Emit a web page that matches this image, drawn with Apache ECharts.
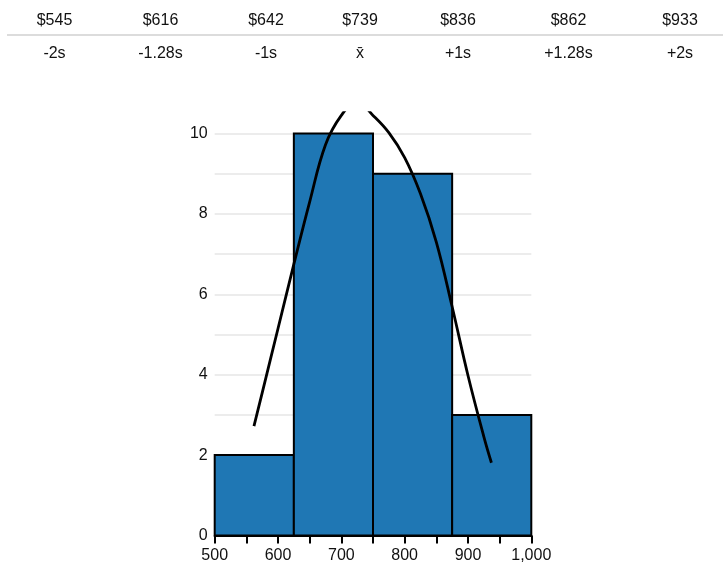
<!DOCTYPE html>
<html>
<head>
<meta charset="utf-8">
<script src="https://cdn.jsdelivr.net/npm/echarts@6/dist/echarts.min.js"></script>
<style>
  html, body { margin: 0; padding: 0; background: #fff; }
  body { width: 723px; height: 569px; position: relative; overflow: hidden;
         font-family: "Liberation Sans", Arial, Helvetica, sans-serif; color: #111; }
  #chart { position: absolute; left: 0; top: 0; width: 723px; height: 569px; }
  #tbl { position: absolute; left: 0; top: 0; width: 723px; height: 70px; z-index: 2; }
  .cell { position: absolute; height: 20px; line-height: 20px; font-size: 16px; text-align: center; white-space: nowrap; }
  .sep { position: absolute; left: 7px; right: 0; top: 34px; height: 2px; background: #dcdcdc; }
</style>
</head>
<body>
<div id="chart"></div>
<div id="tbl"></div>
<script>
// ---- data ----
const stdValues = [545, 616, 642, 739, 836, 862, 933];
const stdLabels = ['-2s', '-1.28s', '-1s', 'x\u0304', '+1s', '+1.28s', '+2s'];

const binStarts = [500, 625, 750, 875];
const binEnds   = [625, 750, 875, 1000];
const binCounts = [2, 10, 9, 3];

const curveX = [562, 575, 600, 625, 650, 675, 700, 725, 750, 775, 800, 825, 850, 875, 900, 925, 937];
const curveY = [2.72, 3.55, 5.15, 6.75, 8.3, 9.72, 10.45, 10.8, 10.45, 10.02, 9.4, 8.5, 7.3, 5.69, 3.98, 2.46, 1.81];

const xTicks = [500, 600, 700, 800, 900, 1000];
const yTicks = [0, 2, 4, 6, 8, 10];

// ---- table ----
const colWidths = [95, 117, 94, 94, 102, 119, 104];
const tbl = document.getElementById('tbl');
let left = 7;
stdValues.forEach((v, i) => {
  const w = colWidths[i];
  const c1 = document.createElement('div');
  c1.className = 'cell';
  c1.style.left = left + 'px'; c1.style.width = w + 'px'; c1.style.top = '10px';
  c1.textContent = '$' + v;
  tbl.appendChild(c1);
  const c2 = document.createElement('div');
  c2.className = 'cell';
  c2.style.left = left + 'px'; c2.style.width = w + 'px'; c2.style.top = '43px';
  c2.textContent = stdLabels[i];
  tbl.appendChild(c2);
  left += w;
});
const sep = document.createElement('div');
sep.className = 'sep';
tbl.appendChild(sep);

// ---- chart ----
const chart = echarts.init(document.getElementById('chart'), null, { renderer: 'canvas' });
const histData = binStarts.map((s, i) => [s, binEnds[i], binCounts[i]]);
const curveData = curveX.map((x, i) => [x, curveY[i]]);
const font = '"Liberation Sans", Arial, Helvetica, sans-serif';

chart.setOption({
  animation: false,
  grid: { left: 214.7, right: 191.7, top: 112.6, bottom: 33.5 },
  xAxis: {
    type: 'value', min: 500, max: 1000, interval: 50,
    axisLine: { show: true, onZero: false, lineStyle: { color: '#000', width: 2 } },
    axisTick: { show: true, length: 8, lineStyle: { color: '#000', width: 2 } },
    splitLine: { show: false },
    axisLabel: {
      margin: 12, fontSize: 16, color: '#111', fontFamily: font,
      showMinLabel: true, showMaxLabel: true,
      formatter: v => xTicks.indexOf(v) >= 0 ? v.toLocaleString('en-US') : ''
    }
  },
  yAxis: {
    type: 'value', min: 0, max: 10.52, interval: 1,
    axisLine: { show: false },
    axisTick: { show: false },
    splitLine: { show: true, showMaxLine: false, lineStyle: { color: '#ececec', width: 2 } },
    axisLabel: {
      margin: 7, fontSize: 16, color: '#111', fontFamily: font,
      formatter: v => yTicks.indexOf(v) >= 0 ? String(v) : ''
    }
  },
  series: [
    {
      type: 'custom',
      data: histData,
      encode: { x: [0, 1], y: 2 },
      renderItem: (params, api) => {
        const p0 = api.coord([api.value(0), api.value(2)]);
        const p1 = api.coord([api.value(1), 0]);
        return {
          type: 'rect',
          shape: { x: p0[0], y: p0[1], width: p1[0] - p0[0], height: p1[1] - p0[1] },
          style: { fill: '#1f77b4', stroke: '#000', lineWidth: 2 }
        };
      },
      z: 2
    },
    {
      type: 'line',
      data: curveData,
      smooth: 0.4,
      symbol: 'none',
      clip: true,
      lineStyle: { color: '#000', width: 2.8 },
      z: 3
    }
  ]
});
</script>
</body>
</html>
